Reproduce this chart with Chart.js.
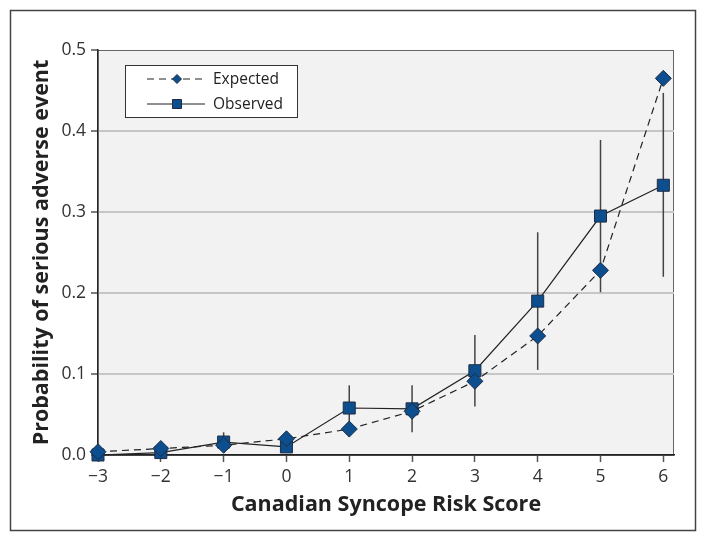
<!DOCTYPE html>
<html>
<head>
<meta charset="utf-8">
<script src="https://cdn.jsdelivr.net/npm/chart.js@4/dist/chart.umd.min.js"></script>
<style>
  html, body { margin: 0; padding: 0; background: #fff; }
  #wrap { width: 706px; height: 542px; position: relative; }
</style>
</head>
<body>
<div id="wrap"><canvas id="chart" width="706" height="542"></canvas></div>
<script>
// Risk score categories and probabilities
const scores = [-3, -2, -1, 0, 1, 2, 3, 4, 5, 6];
const expected = [0.004, 0.008, 0.012, 0.02, 0.032, 0.054, 0.091, 0.147, 0.228, 0.465];
const observed = [0.0, 0.003, 0.016, 0.01, 0.058, 0.057, 0.104, 0.19, 0.295, 0.333];
// 95% CI of observed
const obsLow = [0.0, 0.0, 0.008, 0.004, 0.035, 0.028, 0.06, 0.105, 0.201, 0.22];
const obsHigh = [0.004, 0.008, 0.028, 0.018, 0.086, 0.086, 0.148, 0.275, 0.389, 0.447];
const yTicks = [0, 0.1, 0.2, 0.3, 0.4, 0.5];

const navy = '#0d4f8e';
const navyEdge = '#1c2c44';
const font = "'Open Sans', 'Noto Sans', sans-serif";

let backdrop = {
    id: 'backdrop',
    beforeDraw(chart) {
        const { ctx, chartArea: a } = chart;
        ctx.save();
        ctx.fillStyle = '#fff';
        ctx.fillRect(0, 0, chart.width, chart.height);
        ctx.strokeStyle = '#444';
        ctx.lineWidth = 1.5;
        ctx.strokeRect(10.5, 10.5, 685, 520);
        ctx.fillStyle = '#f2f2f2';
        ctx.fillRect(a.left, a.top, a.right - a.left, a.bottom - a.top);
        ctx.strokeStyle = '#666';
        ctx.lineWidth = 1;
        ctx.strokeRect(a.left, a.top + 0.5, a.right - a.left - 0.5, a.bottom - a.top);
        ctx.restore();
    }
};

let errorBars = {
    id: 'errorBars',
    beforeDatasetsDraw(chart) {
        const { ctx, scales } = chart;
        ctx.save();
        ctx.strokeStyle = '#444';
        ctx.lineWidth = 1.5;
        scores.forEach((s, i) => {
            const x = scales.x.getPixelForValue(s);
            ctx.beginPath();
            ctx.moveTo(x, scales.y.getPixelForValue(obsLow[i]));
            ctx.lineTo(x, scales.y.getPixelForValue(obsHigh[i]));
            ctx.stroke();
        });
        ctx.restore();
    }
};

let boxLegend = {
    id: 'boxLegend',
    afterDraw(chart) {
        const { ctx } = chart;
        const x0 = 125, y0 = 65, w = 172, h = 52;
        ctx.save();
        ctx.fillStyle = '#fff';
        ctx.fillRect(x0, y0, w, h);
        ctx.strokeStyle = '#333';
        ctx.lineWidth = 1;
        ctx.strokeRect(x0 + 0.5, y0 + 0.5, w, h);
        chart.data.datasets.forEach((ds, i) => {
            const y = y0 + 14 + i * 25;
            ctx.strokeStyle = '#222';
            ctx.lineWidth = 1;
            ctx.setLineDash(ds.borderDash || []);
            ctx.beginPath();
            ctx.moveTo(147, y);
            ctx.lineTo(205, y);
            ctx.stroke();
            ctx.setLineDash([]);
            ctx.fillStyle = navy;
            ctx.strokeStyle = navyEdge;
            ctx.beginPath();
            if (ds.pointStyle === 'rectRot') {
                ctx.moveTo(177, y - 4.5); ctx.lineTo(181.5, y); ctx.lineTo(177, y + 4.5); ctx.lineTo(172.5, y);
            } else {
                ctx.rect(172.5, y - 4.5, 9, 9);
            }
            ctx.closePath();
            ctx.fill();
            ctx.stroke();
            ctx.fillStyle = '#222';
            ctx.font = '15.5px ' + font;
            ctx.textBaseline = 'middle';
            ctx.fillText(ds.label, 213, y + 1);
        });
        ctx.restore();
    }
};

let ctx = document.getElementById('chart').getContext('2d');
let chart = new Chart(ctx, {
    type: 'line',
    data: {
        datasets: [{
            label: 'Expected',
            data: scores.map((s, i) => ({ x: s, y: expected[i] })),
            borderColor: '#222',
            borderWidth: 1.2,
            borderDash: [7, 5],
            pointStyle: 'rectRot',
            pointRadius: 8,
            pointBackgroundColor: navy,
            pointBorderColor: navyEdge,
            pointBorderWidth: 1,
            tension: 0
        }, {
            label: 'Observed',
            data: scores.map((s, i) => ({ x: s, y: observed[i] })),
            borderColor: '#222',
            borderWidth: 1.2,
            pointStyle: 'rect',
            pointRadius: 8.5,
            pointBackgroundColor: navy,
            pointBorderColor: navyEdge,
            pointBorderWidth: 1,
            tension: 0
        }]
    },
    options: {
        responsive: false,
        animation: false,
        clip: false,
        layout: { padding: { left: 12, right: 32, top: 50, bottom: 12 } },
        plugins: {
            legend: { display: false },
            tooltip: { enabled: false }
        },
        scales: {
            x: {
                type: 'linear',
                min: -3,
                max: 6.17,
                afterFit(scale) { scale.height = 75; },
                afterBuildTicks(scale) {
                    scale.ticks = scores.map(v => ({ value: v }));
                },
                border: { color: '#222', width: 1.5 },
                grid: { drawOnChartArea: false, drawTicks: true, tickLength: 7, tickColor: '#555', tickWidth: 1.5 },
                ticks: {
                    color: '#333',
                    font: { family: font, size: 17.5 },
                    padding: 5,
                    callback: v => (v < 0 ? '\u2212' + Math.abs(v) : String(v))
                },
                title: {
                    display: true,
                    text: 'Canadian Syncope Risk Score',
                    color: '#222',
                    font: { family: font, size: 21.5, weight: 'bold' },
                    padding: { top: 4, bottom: 12 }
                }
            },
            y: {
                min: 0,
                max: 0.5,
                afterFit(scale) { scale.width = 86; },
                afterBuildTicks(scale) {
                    scale.ticks = yTicks.map(v => ({ value: v }));
                },
                border: { color: '#222', width: 1.5 },
                grid: {
                    color: ctx => (ctx.tick && ctx.tick.value > 0 && ctx.tick.value < 0.5 ? '#c6c6c6' : 'rgba(0,0,0,0)'),
                    lineWidth: 2,
                    drawTicks: true,
                    tickLength: 7,
                    tickColor: '#555',
                    tickWidth: 1.5
                },
                ticks: {
                    color: '#333',
                    font: { family: font, size: 17.5 },
                    padding: 5,
                    callback: v => v.toFixed(1)
                },
                title: {
                    display: true,
                    text: 'Probability of serious adverse event',
                    color: '#222',
                    font: { family: font, size: 21.5, weight: 'bold' },
                    padding: { top: 17, bottom: 0 }
                }
            }
        }
    },
    plugins: [backdrop, errorBars, boxLegend]
});
</script>
</body>
</html>
